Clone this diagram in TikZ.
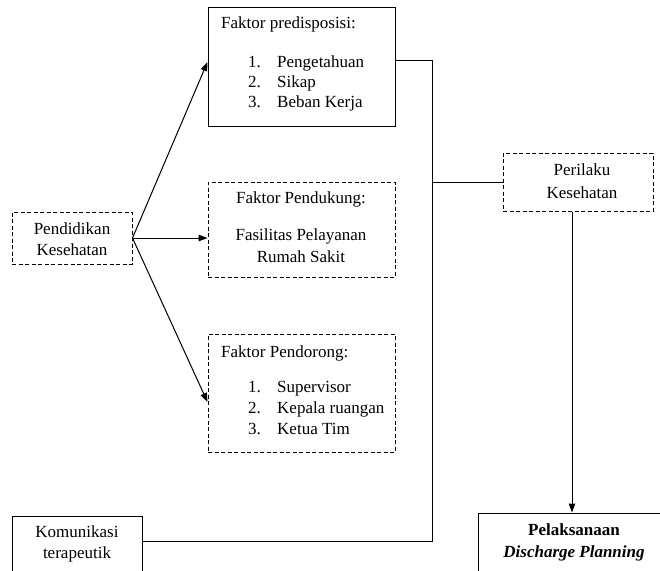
\documentclass[tikz,border=0pt]{standalone}
\usepackage{fontspec}
\setmainfont{Liberation Serif}
\usetikzlibrary{arrows.meta}
\begin{document}
\begin{tikzpicture}[x=1pt,y=-1pt,
  box/.style={draw, line width=1pt, rectangle, inner sep=0pt},
  dbox/.style={box, dash pattern=on 4pt off 2.5pt},
  txt/.style={inner sep=0pt, font=\fontsize{17}{21}\selectfont},
  conn/.style={line width=1pt},
  arr/.style={conn, -{Triangle[length=9pt,width=6.5pt]}}]
\clip (0,0) rectangle (660,570);
\fill[white] (0,0) rectangle (660,570);
% boxes
\node[box, minimum width=187pt, minimum height=119pt] (top) at (301.5,66.5) {};
\node[dbox, minimum width=187pt, minimum height=95pt] (mid) at (301.5,229.5) {};
\node[dbox, minimum width=187pt, minimum height=118pt] (bot) at (301.5,393) {};
\node[dbox, minimum width=120pt, minimum height=52pt] (pend) at (72,238) {};
\node[dbox, minimum width=150pt, minimum height=58pt] (per) at (578,182) {};
\node[box, minimum width=222pt, minimum height=86pt] (pel) at (589,556) {};
\node[box, minimum width=130pt, minimum height=84pt] (kom) at (77,558) {};
% top box text
\node[txt, anchor=base west] (t0) at (221,28) {Faktor predisposisi:};
\node[txt, anchor=base west] (t1n) at (248,67) {1.};
\node[txt, anchor=base west] (t1) at (277,67) {Pengetahuan};
\node[txt, anchor=base west] (t2n) at (248,87) {2.};
\node[txt, anchor=base west] (t2) at (277,87) {Sikap};
\node[txt, anchor=base west] (t3n) at (248,107) {3.};
\node[txt, anchor=base west] (t3) at (277,107) {Beban Kerja};
% middle box text
\node[txt, anchor=base] (m0) at (301,203) {Faktor Pendukung:};
\node[txt, anchor=base] (m1) at (301,240) {Fasilitas Pelayanan};
\node[txt, anchor=base] (m2) at (301,262) {Rumah Sakit};
% bottom box text
\node[txt, anchor=base west] (b0) at (221,357) {Faktor Pendorong:};
\node[txt, anchor=base west] (b1n) at (248,392) {1.};
\node[txt, anchor=base west] (b1) at (277,392) {Supervisor};
\node[txt, anchor=base west] (b2n) at (248,413) {2.};
\node[txt, anchor=base west] (b2) at (277,413) {Kepala ruangan};
\node[txt, anchor=base west] (b3n) at (248,434) {3.};
\node[txt, anchor=base west] (b3) at (277,434) {Ketua Tim};
% other texts
\node[txt, anchor=base] (p1) at (72,234) {Pendidikan};
\node[txt, anchor=base] (p2) at (72,255) {Kesehatan};
\node[txt, anchor=base] (r1) at (582,175) {Perilaku};
\node[txt, anchor=base] (r2) at (582,198) {Kesehatan};
\node[txt, anchor=base] (k1) at (77,537) {Komunikasi};
\node[txt, anchor=base] (k2) at (77,558) {terapeutik};
\node[txt, anchor=base, font=\fontsize{17}{21}\selectfont\bfseries] (l1) at (574,535) {Pelaksanaan};
\node[txt, anchor=base, font=\fontsize{17}{21}\selectfont\bfseries\itshape] (l2) at (574,557) {Discharge Planning};
% connectors
\draw[arr] (pend.east) -- ([yshift=4.5pt]top.west);
\draw[arr] (pend.east) -- (pend.east -| mid.west);
\draw[arr] (pend.east) -- ([yshift=-9pt]bot.west);
\coordinate (j1) at (432,60);
\coordinate (j2) at (432,541);
\draw[conn] ([yshift=6.5pt]top.east) -- (j1) -- (j2) -- (kom.east |- j2);
\draw[conn] (per.west) -- (per.west -| j1);
\draw[arr] ([xshift=-6pt]per.south) -- ([xshift=-6pt]per.south |- pel.north);
\end{tikzpicture}
\end{document}
